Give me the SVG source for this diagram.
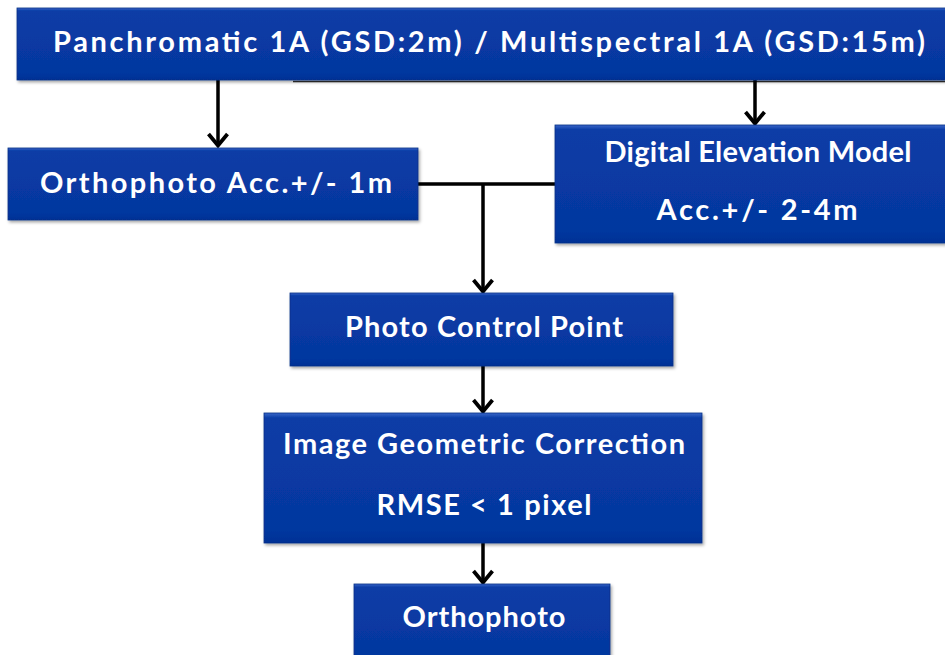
<svg xmlns="http://www.w3.org/2000/svg" width="945" height="655" viewBox="0 0 945 655">
<defs>
<linearGradient id="bx" x1="0" y1="0" x2="0" y2="1">
<stop offset="0" stop-color="#3a67c8"/>
<stop offset="0.04" stop-color="#0a3ca6"/>
<stop offset="0.9" stop-color="#05379f"/>
<stop offset="1" stop-color="#043195"/>
</linearGradient>
<filter id="sh" x="-5%" y="-10%" width="110%" height="130%">
<feDropShadow dx="1.5" dy="2" stdDeviation="1.5" flood-color="#000" flood-opacity="0.35"/>
</filter>
<marker id="ah" viewBox="0 0 18 24" refX="16" refY="12" markerWidth="18" markerHeight="24" markerUnits="userSpaceOnUse" orient="auto">
<path d="M4,2.5 L15.5,12 L4,21.5" fill="none" stroke="#000" stroke-width="3.8"/>
</marker>
</defs>
<style>
.box{fill:url(#bx);stroke:#0a2f85;stroke-width:0.8;filter:url(#sh)}
.t{font-family:Lato,"Open Sans","Liberation Sans",sans-serif;font-weight:bold;font-size:29px;fill:#fff;text-anchor:middle}
.c{stroke:#000;stroke-width:3.5;fill:none}
</style>
<rect width="945" height="655" fill="#fff"/>
<g id="connectors">
<line x1="293" y1="81.5" x2="945" y2="81.5" stroke="#333" stroke-width="1.5"/>
<line class="c" x1="218" y1="80" x2="218" y2="146" marker-end="url(#ah)"/>
<line class="c" x1="755" y1="80" x2="755" y2="124" marker-end="url(#ah)"/>
<line class="c" x1="418" y1="184" x2="556" y2="184"/>
<line class="c" x1="483" y1="184" x2="483" y2="292" marker-end="url(#ah)"/>
<line class="c" x1="483" y1="366" x2="483" y2="412" marker-end="url(#ah)"/>
<line class="c" x1="483" y1="543" x2="483" y2="583" marker-end="url(#ah)"/>
</g>
<g id="n_source">
<rect class="box" x="17" y="8" width="940" height="72"/>
<text class="t" x="489" y="52" textLength="872">Panchromatic 1A (GSD:2m) / Multispectral 1A (GSD:15m)</text>
</g>
<g id="n_ortho_acc">
<rect class="box" x="8" y="148" width="410" height="72"/>
<text class="t" x="216" y="193" textLength="352">Orthophoto Acc.+/- 1m</text>
</g>
<g id="n_dem">
<rect class="box" x="555" y="125" width="400" height="118"/>
<text class="t" x="758" y="162" textLength="307">Digital Elevation Model</text>
<text class="t" x="757" y="220" textLength="201">Acc.+/- 2-4m</text>
</g>
<g id="n_pcp">
<rect class="box" x="290" y="293" width="383" height="73"/>
<text class="t" x="484" y="337" textLength="278">Photo Control Point</text>
</g>
<g id="n_igc">
<rect class="box" x="264" y="413" width="438" height="130"/>
<text class="t" x="484" y="454" textLength="402">Image Geometric Correction</text>
<text class="t" x="484" y="515" textLength="215">RMSE &lt; 1 pixel</text>
</g>
<g id="n_ortho">
<rect class="box" x="354" y="584" width="256" height="80"/>
<text class="t" x="484" y="627" textLength="163">Orthophoto</text>
</g>
</svg>
